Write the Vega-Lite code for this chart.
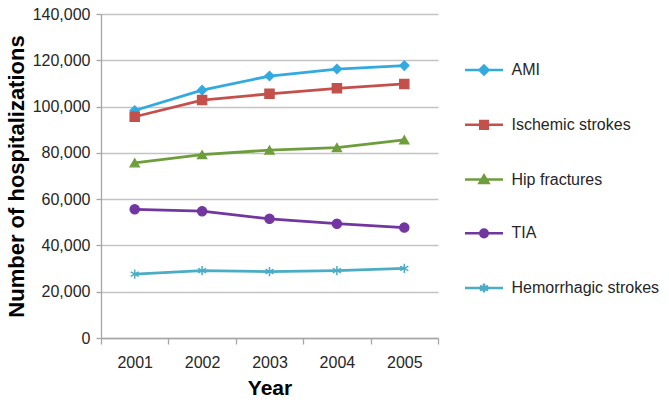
{
  "$schema": "https://vega.github.io/schema/vega-lite/v6.json",
  "autosize": "none",
  "width": 337,
  "height": 324,
  "padding": {"left": 101, "top": 14, "right": 231, "bottom": 66},
  "background": "white",
  "config": {
    "font": "Liberation Sans",
    "view": {"stroke": null},
    "axis": {"labelFont": "Liberation Sans", "titleFont": "Liberation Sans", "labelColor": "#262626", "titleColor": "#000000"}
  },
  "data": {
    "values": [
      {"series": "AMI", "year": "2001", "value": 98300},
      {"series": "AMI", "year": "2002", "value": 107100},
      {"series": "AMI", "year": "2003", "value": 113200},
      {"series": "AMI", "year": "2004", "value": 116200},
      {"series": "AMI", "year": "2005", "value": 117700},
      {"series": "Ischemic strokes", "year": "2001", "value": 95600},
      {"series": "Ischemic strokes", "year": "2002", "value": 102800},
      {"series": "Ischemic strokes", "year": "2003", "value": 105500},
      {"series": "Ischemic strokes", "year": "2004", "value": 107900},
      {"series": "Ischemic strokes", "year": "2005", "value": 109800},
      {"series": "Hip fractures", "year": "2001", "value": 75700},
      {"series": "Hip fractures", "year": "2002", "value": 79200},
      {"series": "Hip fractures", "year": "2003", "value": 81200},
      {"series": "Hip fractures", "year": "2004", "value": 82300},
      {"series": "Hip fractures", "year": "2005", "value": 85600},
      {"series": "TIA", "year": "2001", "value": 55600},
      {"series": "TIA", "year": "2002", "value": 54800},
      {"series": "TIA", "year": "2003", "value": 51500},
      {"series": "TIA", "year": "2004", "value": 49400},
      {"series": "TIA", "year": "2005", "value": 47700},
      {"series": "Hemorrhagic strokes", "year": "2001", "value": 27600},
      {"series": "Hemorrhagic strokes", "year": "2002", "value": 29100},
      {"series": "Hemorrhagic strokes", "year": "2003", "value": 28700},
      {"series": "Hemorrhagic strokes", "year": "2004", "value": 29100},
      {"series": "Hemorrhagic strokes", "year": "2005", "value": 30100}
    ]
  },
  "encoding": {
    "x": {
      "field": "year", "type": "ordinal", "bandPosition": 0.5,
      "scale": {"type": "band", "paddingInner": 0, "paddingOuter": 0},
      "axis": {
        "title": "Year", "titleFontSize": 21, "titleFontWeight": "bold", "titlePadding": 7,
        "labelAngle": 0, "labelFontSize": 16, "labelPadding": 10,
        "tickBand": "extent", "tickSize": 6, "tickColor": "#A6A6A6", "tickWidth": 1.3,
        "domainColor": "#A6A6A6", "domainWidth": 1.3, "grid": false
      }
    },
    "y": {
      "field": "value", "type": "quantitative",
      "scale": {"domain": [0, 140000], "nice": false},
      "axis": {
        "title": "Number of hospitalizations", "titleFontSize": 22, "titleFontWeight": "bold", "titlePadding": 4,
        "values": [0, 20000, 40000, 60000, 80000, 100000, 120000, 140000], "format": ",d",
        "labelFontSize": 16, "labelPadding": 6,
        "tickSize": 5, "tickColor": "#A6A6A6", "tickWidth": 1.3,
        "domainColor": "#A6A6A6", "domainWidth": 1.3,
        "grid": true, "gridColor": "#C4C4C4", "gridWidth": 1.3
      }
    }
  },
  "layer": [
    {
      "mark": {"type": "line", "strokeWidth": 2.8},
      "encoding": {
        "color": {
          "field": "series", "type": "nominal",
          "scale": {
            "domain": ["AMI", "Ischemic strokes", "Hip fractures", "TIA", "Hemorrhagic strokes"],
            "range": ["#33AADF", "#C4504B", "#6E9E3C", "#7236A0", "#4BACC6"]
          },
          "legend": {
            "title": null, "orient": "none", "legendX": 371.5, "legendY": 44.6,
            "padding": 0, "symbolSize": 400, "symbolStrokeWidth": 2.5, "rowPadding": 33.75, "labelOffset": 16,
            "labelFontSize": 16, "labelFont": "Liberation Sans", "labelColor": "#262626", "labelLimit": 300,
            "labelExpr": "datum.label == 'TIA' ? '\u00a0TIA' : datum.label",
            "encode": {
              "symbols": {
                "update": {
                  "shape": {"signal": "({'AMI': 'M-1.9,0H1.9M0,-0.45L0.45,0L0,0.45L-0.45,0Z', 'Ischemic strokes': 'M-1.9,0H1.9M-0.38,-0.38H0.38V0.38H-0.38Z', 'Hip fractures': 'M-1.9,0H1.9M0,-0.42L0.45,0.35L-0.45,0.35Z', 'TIA': 'M-1.9,0H1.9M-0.38,0A0.38,0.38,0,1,1,0.38,0A0.38,0.38,0,1,1,-0.38,0Z', 'Hemorrhagic strokes': 'M-1.9,0H1.9M0,-0.45V0.45M-0.4,-0.22L0.4,0.22M-0.4,0.22L0.4,-0.22'})[datum.value]"},
                  "fill": {"scale": "color", "field": "value"},
                  "stroke": {"scale": "color", "field": "value"},
                  "strokeWidth": {"value": 2.5}
                }
              }
            }
          }
        }
      }
    },
    {
      "transform": [{"filter": "datum.series === 'AMI'"}],
      "mark": {"type": "point", "shape": "diamond", "filled": true, "opacity": 1, "size": 85, "fill": "#33AADF", "stroke": "#33AADF", "strokeWidth": 1.3}
    },
    {
      "transform": [{"filter": "datum.series === 'Ischemic strokes'"}],
      "mark": {"type": "point", "shape": "square", "filled": true, "opacity": 1, "size": 85, "fill": "#C4504B", "stroke": "#C4504B", "strokeWidth": 1.3}
    },
    {
      "transform": [{"filter": "datum.series === 'Hip fractures'"}],
      "mark": {"type": "point", "shape": "triangle-up", "filled": true, "opacity": 1, "size": 85, "fill": "#6E9E3C", "stroke": "#6E9E3C", "strokeWidth": 1.3}
    },
    {
      "transform": [{"filter": "datum.series === 'TIA'"}],
      "mark": {"type": "point", "shape": "circle", "filled": true, "opacity": 1, "size": 85, "fill": "#7236A0", "stroke": "#7236A0", "strokeWidth": 1.3}
    },
    {
      "transform": [{"filter": "datum.series === 'Hemorrhagic strokes'"}],
      "mark": {"type": "point", "shape": "M0,-1V1M-0.87,-0.5L0.87,0.5M-0.87,0.5L0.87,-0.5", "filled": false, "opacity": 1, "size": 85, "stroke": "#4BACC6", "strokeWidth": 1.5}
    }
  ]
}
